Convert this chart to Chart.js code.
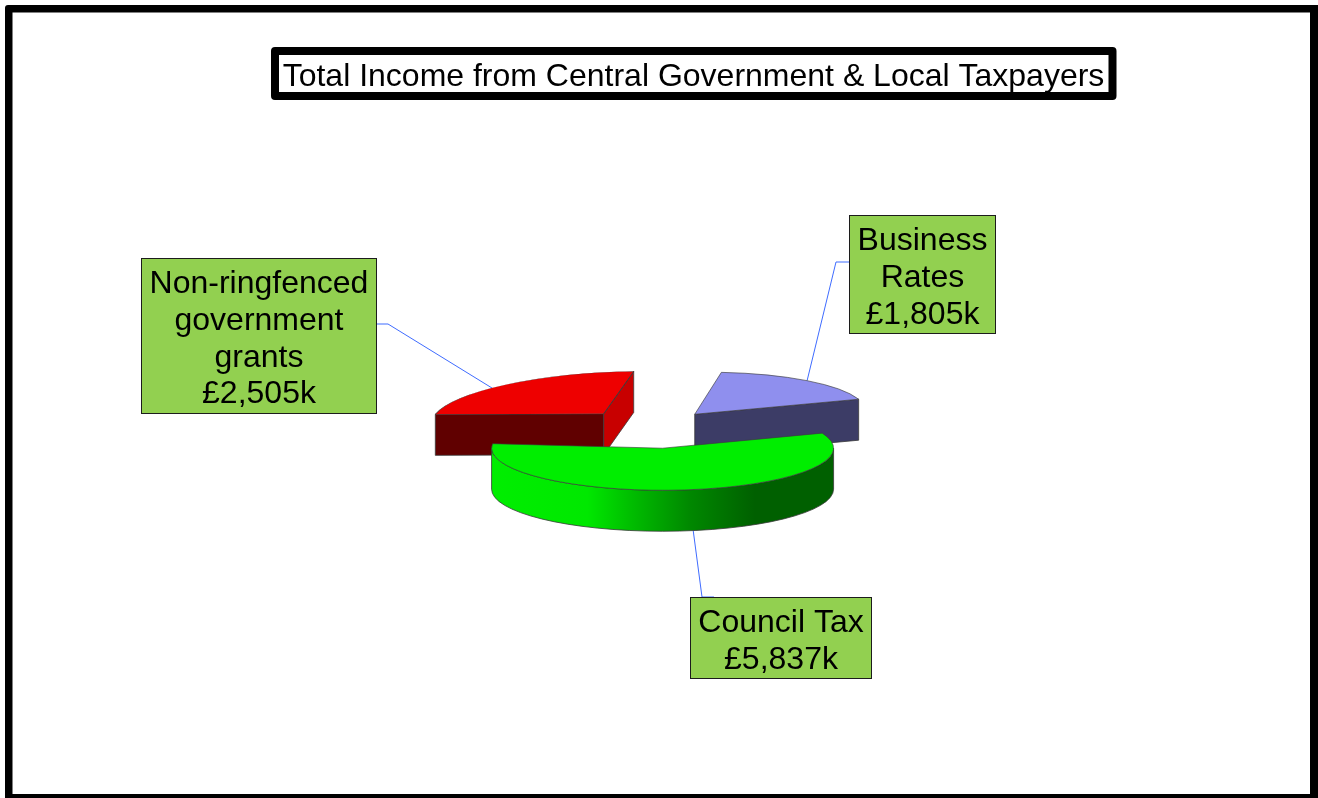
<!DOCTYPE html>
<html>
<head>
<meta charset="utf-8">
<title>Total Income from Central Government &amp; Local Taxpayers</title>
<style>
  html, body { margin: 0; padding: 0; background: #fff; overflow: hidden; }
  canvas { display: block; }
</style>
<script src="https://cdn.jsdelivr.net/npm/chart.js@4/dist/chart.umd.min.js"></script>
</head>
<body>
<canvas id="income" width="1318" height="798"></canvas>
<script>
// Income sources, in the order they run clockwise round the pie.
const chartTitle = 'Total Income from Central Government & Local Taxpayers';
const categories = ['Business Rates', 'Council Tax', 'Non-ringfenced government grants'];
const categoryLines = [['Business', 'Rates'], ['Council Tax'], ['Non-ringfenced', 'government', 'grants']];
const incomeThousands = [1805, 5837, 2505];

// Face colours for each slice.
const topColours = ['#8f8fee', '#00ee00', '#ee0000'];
const startFaceColours = ['#3c3c66', '#006000', '#600000'];
const endFaceColours = ['#3c3c66', '#006000', '#c80000'];
const wallColours = ['#3c3c66', null, '#600000'];

// Pie geometry and projection.
const pieRadius = 171;
const tilt = 0.246;
const depth = 41;
const explode = [71, 82, 76];
const paintOrder = [2, 0, 1];
// Slight skew on the rear slices, as seen from a viewpoint off to one side.
const skewX = [0.28, 0, 0.36];
const skewY = [0, 0, 0.03];

// Callout boxes: left, top, right, bottom, then the leader's attachment and elbow.
const calloutBoxes = [
  { l: 849.5, t: 215.5, r: 995.5, b: 333.5, ax: 849, ay: 262, ex: 836, ey: 262, along: 0.5, fromWall: false },
  { l: 690.5, t: 597.5, r: 871.5, b: 678.5, ax: 714, ay: 597, ex: 702, ey: 597, along: 0.486, fromWall: true },
  { l: 141.5, t: 258.5, r: 376.5, b: 413.5, ax: 377, ay: 324, ex: 388, ey: 324, along: 0.43, fromWall: false }
];

function sliceFrame(arc, i) {
  const p = arc.getProps(['x', 'y', 'startAngle', 'endAngle', 'outerRadius'], true);
  const mid = (p.startAngle + p.endAngle) / 2;
  const sx = p.x + Math.cos(mid) * explode[i];
  const sy = p.y + Math.sin(mid) * explode[i] * tilt;
  return { x: p.x, y: p.y, sx, sy, r: p.outerRadius, a0: p.startAngle, a1: p.endAngle, kx: skewX[i], ky: skewY[i] };
}

function rim(f, a, drop) {
  const dx = f.r * Math.cos(a);
  const dy = f.r * tilt * Math.sin(a);
  return [f.sx + dx - f.kx * dy, f.sy + dy - f.ky * dx + drop];
}

function drawRadialFace(ctx, f, a, colour) {
  const e = rim(f, a, 0);
  ctx.beginPath();
  ctx.moveTo(f.sx, f.sy);
  ctx.lineTo(e[0], e[1]);
  ctx.lineTo(e[0], e[1] + depth);
  ctx.lineTo(f.sx, f.sy + depth);
  ctx.closePath();
  ctx.fillStyle = colour;
  ctx.fill();
  ctx.stroke();
}

function drawOuterWall(ctx, f, i) {
  // Only the part of the rim on the viewer's side of the pie can be seen.
  const two = Math.PI * 2;
  const ranges = [[0, Math.PI], [two, two + Math.PI], [-two, -Math.PI]];
  for (const [lo, hi] of ranges) {
    const a0 = Math.max(f.a0, lo);
    const a1 = Math.min(f.a1, hi);
    if (a1 <= a0) continue;
    ctx.beginPath();
    ctx.ellipse(f.sx, f.sy, f.r, f.r * tilt, 0, a0, a1);
    ctx.ellipse(f.sx, f.sy + depth, f.r, f.r * tilt, 0, a1, a0, true);
    ctx.closePath();
    if (wallColours[i]) {
      ctx.fillStyle = wallColours[i];
    } else {
      const g = ctx.createLinearGradient(f.sx - f.r, 0, f.sx + f.r, 0);
      g.addColorStop(0, '#00ee00');
      g.addColorStop(0.28, '#00e800');
      g.addColorStop(0.4, '#00c000');
      g.addColorStop(0.58, '#008800');
      g.addColorStop(0.77, '#006000');
      g.addColorStop(1, '#006000');
      ctx.fillStyle = g;
    }
    ctx.fill();
    ctx.stroke();
  }
}

const pie3d = {
  id: 'pie3d',
  afterLayout(chart) {
    // The title box sits to the right of the pie's centre line.
    const t = chart.titleBlock;
    const half = (t.right - t.left) / 2;
    t.left = 693.5 - half;
    t.right = 693.5 + half;
  },
  beforeDraw(chart) {
    const ctx = chart.ctx;
    ctx.save();
    ctx.fillStyle = '#fff';
    ctx.fillRect(0, 0, 1318, 798);
    // Outer frame
    ctx.fillStyle = '#000';
    ctx.beginPath();
    ctx.roundRect(5, 5, 1340, 820, 3);
    ctx.fill();
    ctx.fillStyle = '#fff';
    ctx.fillRect(12.5, 12.5, 1297.5, 781.5);
    // Title box
    ctx.strokeStyle = '#000';
    ctx.lineWidth = 8;
    ctx.lineJoin = 'round';
    ctx.strokeRect(275, 51, 837.5, 45);
    ctx.restore();
  },
  beforeDatasetsDraw(chart) {
    const ctx = chart.ctx;
    const arcs = chart.getDatasetMeta(0).data;
    const frames = arcs.map(sliceFrame);

    // Leader lines run underneath the slices.
    ctx.save();
    ctx.strokeStyle = '#3f6cff';
    ctx.lineWidth = 1;
    calloutBoxes.forEach((b, i) => {
      const f = frames[i];
      const s = rim(f, f.a0 + (f.a1 - f.a0) * b.along, b.fromWall ? depth : 0);
      ctx.beginPath();
      ctx.moveTo(s[0], s[1]);
      ctx.lineTo(b.ex, b.ey);
      ctx.lineTo(b.ax, b.ay);
      ctx.stroke();
    });
    ctx.restore();

    // Back slices first, the large front slice last.
    paintOrder.forEach(i => {
      const f = frames[i];
      ctx.save();
      ctx.strokeStyle = '#3a3a3a';
      ctx.lineWidth = 0.8;
      ctx.lineJoin = 'round';
      const startNormal = Math.sin(f.a0 - Math.PI / 2);
      const endNormal = Math.sin(f.a1 + Math.PI / 2);
      if (startNormal > 0) drawRadialFace(ctx, f, f.a0, startFaceColours[i]);
      if (endNormal > 0) drawRadialFace(ctx, f, f.a1, endFaceColours[i]);
      drawOuterWall(ctx, f, i);
      ctx.restore();

      ctx.save();
      ctx.translate(f.sx, f.sy);
      ctx.transform(1, -f.ky, -f.kx, 1, 0, 0);
      ctx.scale(1, tilt);
      ctx.translate(-f.x, -f.y);
      arcs[i].draw(ctx);
      ctx.restore();
    });

    // Callout boxes with name and amount.
    ctx.save();
    ctx.font = '32px "Liberation Sans", Arial, sans-serif';
    ctx.textAlign = 'center';
    ctx.textBaseline = 'middle';
    calloutBoxes.forEach((b, i) => {
      ctx.fillStyle = '#92d050';
      ctx.strokeStyle = '#1c1c1c';
      ctx.lineWidth = 1;
      ctx.fillRect(b.l, b.t, b.r - b.l, b.b - b.t);
      ctx.strokeRect(b.l, b.t, b.r - b.l, b.b - b.t);
      const amount = '£' + incomeThousands[i].toLocaleString('en-GB') + 'k';
      const lines = categoryLines[i].concat(amount);
      const step = 36.7;
      const cx = (b.l + b.r) / 2;
      const first = (b.t + b.b) / 2 + 3.5 - step * (lines.length - 1) / 2;
      ctx.fillStyle = '#000';
      lines.forEach((line, n) => ctx.fillText(line, cx, first + n * step));
    });
    ctx.restore();
    return false;
  }
};

new Chart(document.getElementById('income'), {
  type: 'pie',
  data: {
    labels: categories,
    datasets: [{
      data: incomeThousands,
      backgroundColor: topColours,
      borderColor: '#3a3a3a',
      borderWidth: 1,
      offset: 0
    }]
  },
  options: {
    responsive: false,
    animation: false,
    rotation: 5,
    radius: pieRadius,
    layout: { padding: { top: 0, left: 0, right: 14, bottom: 38 } },
    plugins: {
      legend: { display: false },
      tooltip: { enabled: false },
      title: {
        display: true,
        text: chartTitle,
        color: '#000',
        font: { family: '"Liberation Sans", Arial, sans-serif', size: 32, weight: 'normal', lineHeight: 1.2 },
        padding: { top: 58, bottom: 0 }
      }
    }
  },
  plugins: [pie3d]
});
</script>
</body>
</html>
